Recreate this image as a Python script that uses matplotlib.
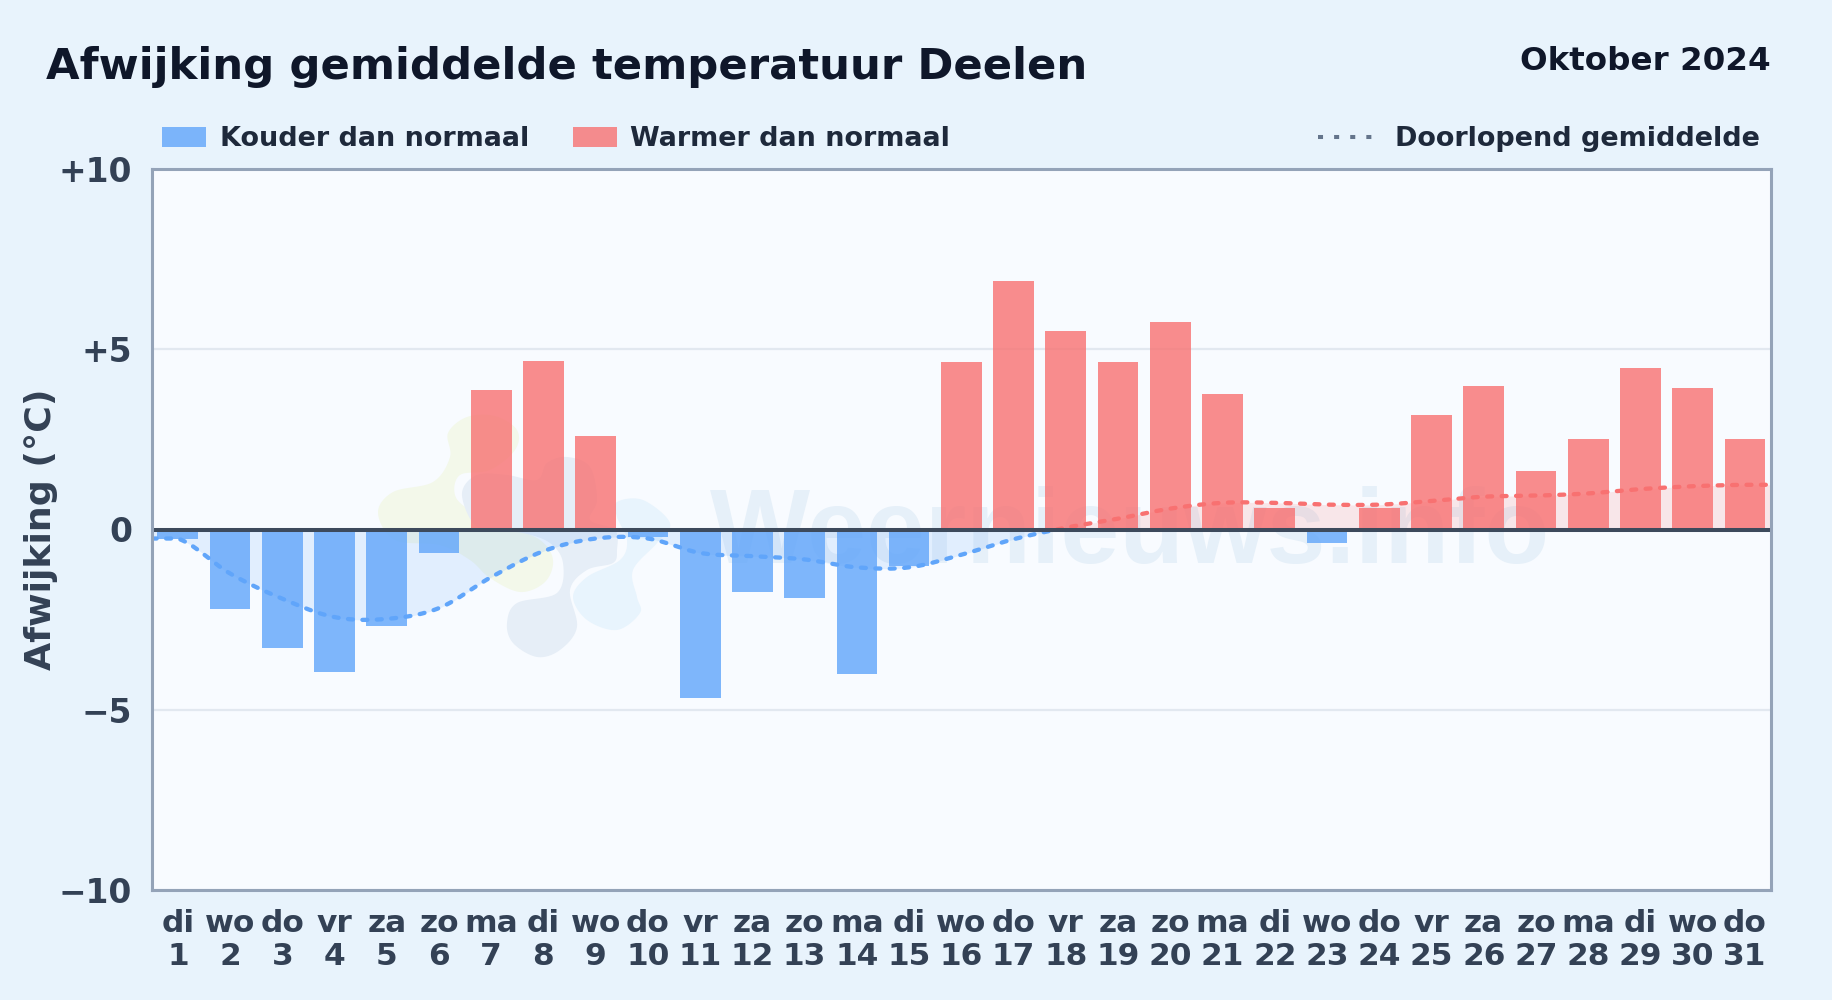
import numpy as np
import matplotlib
matplotlib.use('Agg')
import matplotlib.pyplot as plt
from matplotlib.patches import Rectangle, PathPatch
from matplotlib.path import Path

days = list(range(1, 32))
weekdays = ['di', 'wo', 'do', 'vr', 'za', 'zo', 'ma', 'di', 'wo', 'do', 'vr', 'za', 'zo', 'ma', 'di', 'wo',
            'do', 'vr', 'za', 'zo', 'ma', 'di', 'wo', 'do', 'vr', 'za', 'zo', 'ma', 'di', 'wo', 'do']
anomaly = [-0.25, -2.2, -3.3, -3.95, -2.67, -0.66, 3.87, 4.68, 2.58, -0.22, -4.68, -1.73, -1.9, -4.0, -1.0, 4.65,
           6.9, 5.52, 4.65, 5.75, 3.77, 0.6, -0.37, 0.6, 3.19, 3.97, 1.63, 2.51, 4.48, 3.93, 2.51]
running_mean = [-0.25, -1.22, -1.92, -2.43, -2.48, -2.18, -1.32, -0.6, -0.25, -0.25, -0.65, -0.74, -0.83, -1.05,
                -1.05, -0.7, -0.27, 0.05, 0.3, 0.58, 0.74, 0.74, 0.69, 0.69, 0.79, 0.91, 0.94, 1.0, 1.12, 1.2, 1.24]
y_ticks = [-10, -5, 0, 5, 10]
y_labels = ['\u221210', '\u22125', '0', '+5', '+10']

W, H = 1832, 1000
BG = '#e8f3fc'
BLUE = '#60a5fa'
RED = '#f87171'


def smooth(xs, ys, n=24):
    # catmull-rom through the points, only for drawing the line
    xs = np.asarray(xs, float)
    ys = np.asarray(ys, float)
    px = np.r_[xs[0] - 1, xs, xs[-1] + 1]
    py = np.r_[ys[0], ys, ys[-1]]
    out_x, out_y = [], []
    for i in range(1, len(px) - 2):
        t = np.linspace(0, 1, n, endpoint=False)
        out_x.append(px[i] + t * (px[i + 1] - px[i]))
        out_y.append(0.5 * (2 * py[i] + (py[i + 1] - py[i - 1]) * t
                            + (2 * py[i - 1] - 5 * py[i] + 4 * py[i + 1] - py[i + 2]) * t ** 2
                            + (3 * py[i] - py[i - 1] - 3 * py[i + 1] + py[i + 2]) * t ** 3))
    return np.r_[np.concatenate(out_x), xs[-1]], np.r_[np.concatenate(out_y), ys[-1]]


def blob(ax, pts, color):
    # closed smooth shape in figure pixels, y down
    pts = np.array(pts + pts[:3], float)
    x, y = [], []
    for i in range(1, len(pts) - 2):
        for t in np.linspace(0, 1, 12, endpoint=False):
            for arr, k in ((x, 0), (y, 1)):
                p0, p1, p2, p3 = pts[i - 1, k], pts[i, k], pts[i + 1, k], pts[i + 2, k]
                arr.append(0.5 * (2 * p1 + (p2 - p0) * t + (2 * p0 - 5 * p1 + 4 * p2 - p3) * t ** 2
                                  + (3 * p1 - p0 - 3 * p2 + p3) * t ** 3))
    verts = np.c_[np.array(x) / W, 1 - np.array(y) / H]
    ax.add_patch(PathPatch(Path(verts, closed=False), fc=color, ec='none',
                           transform=ax.figure.transFigure, zorder=1))


fig = plt.figure(figsize=(W / 100, H / 100), dpi=100, facecolor=BG)
ax = fig.add_axes([151.7 / W, 1 - 890 / H, (1771 - 151.7) / W, (890 - 169) / H], facecolor='#f8fbff')

# watermark
blob(ax, [(467, 417), (448, 433), (450, 457), (433, 482), (393, 492), (378, 513), (395, 540), (440, 545),
          (470, 560), (490, 578), (520, 592), (545, 582), (553, 560), (540, 540), (505, 525), (470, 510),
          (455, 495), (460, 475), (490, 470), (515, 450), (517, 430), (495, 416)], '#f3f8ea')
blob(ax, [(462, 493), (477, 475), (507, 475), (537, 480), (547, 463), (567, 457), (590, 467), (597, 500),
          (590, 520), (615, 530), (617, 550), (613, 563), (587, 570), (570, 590), (577, 627), (560, 650),
          (537, 657), (513, 643), (507, 623), (517, 603), (557, 593), (563, 563), (550, 543), (523, 533),
          (493, 530), (473, 523)], '#e6eef7')
blob(ax, [(643, 500), (670, 523), (657, 543), (633, 570), (637, 597), (640, 613), (617, 630), (587, 620),
          (573, 597), (587, 577), (620, 560), (627, 540), (617, 517), (617, 502)], '#e8f4fd')
ax.text(0.604, 0.491, 'Weernieuws.info', transform=ax.transAxes, ha='center', va='center', fontsize=76.3,
        fontweight='bold', color='#e6f0f9', zorder=1, family='Liberation Sans')

ax.set_xlim(0.5, 31.5)
ax.set_ylim(-10, 10)
ax.yaxis.grid(True, color='#e2e8f0', lw=1.6, zorder=0)
ax.set_axisbelow(True)

# fill and dotted line, blue below zero and red above
cx, cy = smooth(days, running_mean)
cx = np.r_[0.5, cx, 31.5]
cy = np.r_[running_mean[0], cy, running_mean[-1]]
ax.fill_between(cx, cy, 0, where=cy <= 0, color=BLUE, alpha=0.15, lw=0, zorder=2, interpolate=True)
ax.fill_between(cx, cy, 0, where=cy >= 0, color=RED, alpha=0.15, lw=0, zorder=2, interpolate=True)

colors = [BLUE if v < 0 else RED for v in anomaly]
ax.bar(days, anomaly, width=0.78, color=colors, alpha=0.8, lw=0, zorder=3)

ax.plot(cx, np.where(cy <= 0, cy, np.nan), color=BLUE, lw=3.1, ls=(0, (1.15, 2.2)), dash_capstyle='round', zorder=5)
ax.plot(cx, np.where(cy >= 0, cy, np.nan), color=RED, lw=3.1, ls=(0, (1.15, 2.2)), dash_capstyle='round', zorder=5)
ax.axhline(0, color='#3d4a5c', lw=2.9, zorder=6)

for s in ax.spines.values():
    s.set_color('#94a3b8')
    s.set_linewidth(2.2)
    s.set_zorder(7)

ax.set_yticks(y_ticks)
ax.set_yticklabels(y_labels, fontsize=23.7, fontweight='bold', color='#334155')
ax.set_xticks(days)
ax.set_xticklabels([w + '\n' + str(d) for w, d in zip(weekdays, days)], fontsize=22.5, fontweight='bold',
                   color='#334155', linespacing=1.17)
ax.tick_params(axis='both', length=0)
ax.tick_params(axis='y', pad=14)
ax.tick_params(axis='x', pad=13.5)
ax.set_ylabel('Afwijking (\u00b0C)', fontsize=26.2, fontweight='bold', color='#334155', labelpad=0)
ax.yaxis.set_label_coords(-93.7 / 1619.3, 0.5)

fig.text(46 / W, 1 - 67 / H, 'Afwijking gemiddelde temperatuur Deelen', fontsize=31.2, fontweight='bold',
         color='#0f172a', ha='left', va='center')
fig.text(1771 / W, 1 - 62 / H, 'Oktober 2024', fontsize=23.4, fontweight='bold', color='#0f172a',
         ha='right', va='center')

# legend placed by hand
for x0, c, label, tx in ((162, BLUE, 'Kouder dan normaal', 219.5), (573, RED, 'Warmer dan normaal', 630)):
    fig.add_artist(Rectangle((x0 / W, 1 - 146.5 / H), 44 / W, 19.5 / H, transform=fig.transFigure, fc=c, alpha=0.8, ec='none'))
    fig.text(tx / W, 1 - 138.7 / H, label, fontsize=19.45, fontweight='bold', color='#1e293b', ha='left', va='center')
fig.add_artist(plt.Line2D([1318 / W, 1373 / W], [1 - 137 / H] * 2, transform=fig.transFigure, color='#64748b',
                          lw=2.9, ls=(0, (1.25, 2.75)), dash_capstyle='butt'))
fig.text(1760 / W, 1 - 138.7 / H, 'Doorlopend gemiddelde', fontsize=19.45, fontweight='bold', color='#1e293b',
         ha='right', va='center')

fig.savefig('out.png', dpi=100, facecolor=BG)
